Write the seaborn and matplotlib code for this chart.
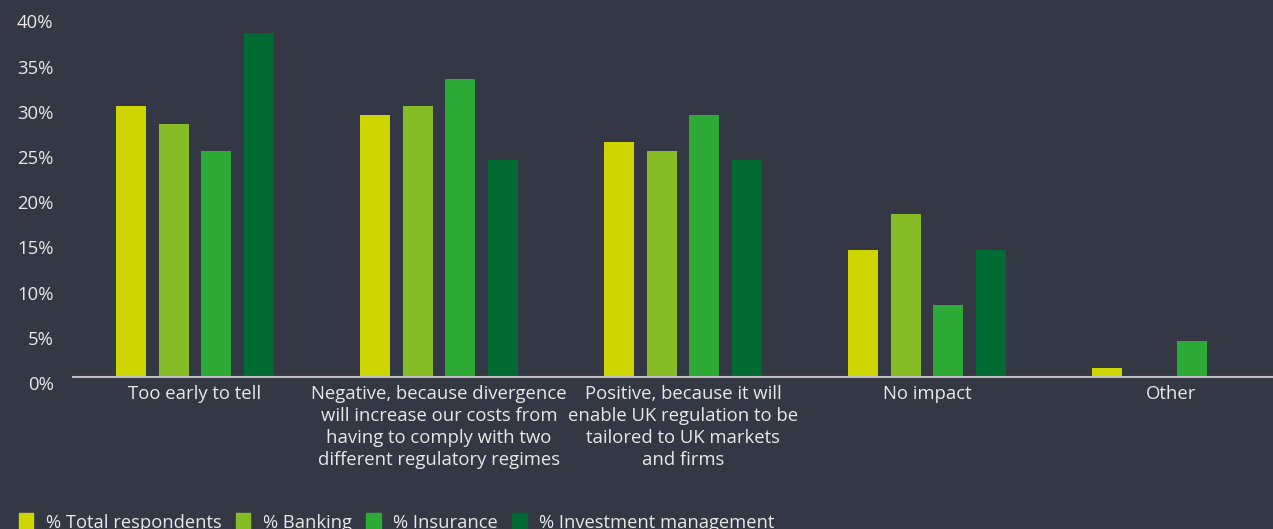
import matplotlib
matplotlib.use("Agg")
import matplotlib.pyplot as plt
import matplotlib.transforms as mtransforms
import seaborn as sns
import pandas as pd

categories = [
    "Too early to tell",
    "Negative, because divergence\nwill increase our costs from\nhaving to comply with two\ndifferent regulatory regimes",
    "Positive, because it will\nenable UK regulation to be\ntailored to UK markets\nand firms",
    "No impact",
    "Other",
]
series = ["% Total respondents", "% Banking", "% Insurance", "% Investment management"]
total = [30, 29, 26, 14, 1]
banking = [28, 30, 25, 18, 0]
insurance = [25, 33, 29, 8, 4]
investment = [38, 24, 24, 14, 0]
yticks = [0, 5, 10, 15, 20, 25, 30, 35, 40]

colors = ["#CED500", "#86BC25", "#2DA935", "#006A33"]
bg = "#343744"
txt = "#E8E8E8"

rows = []
for name, vals in zip(series, [total, banking, insurance, investment]):
    for c, v in zip(categories, vals):
        rows.append({"category": c, "series": name, "value": v})
df = pd.DataFrame(rows)

sns.set_style("white")
plt.rcParams["font.family"] = ["Open Sans", "DejaVu Sans"]

fig = plt.figure(figsize=(12.73, 5.29), dpi=100)
fig.patch.set_facecolor(bg)
ax = fig.add_axes([73 / 1273, 152 / 529, 1220 / 1273, 361.6 / 529])
ax.set_facecolor(bg)

sns.barplot(data=df, x="category", y="value", hue="series", palette=colors,
            width=0.70, gap=0.30, saturation=1, linewidth=0, ax=ax, legend=False)

ax.set_ylim(0, 40)
ax.set_xlim(-0.5, 4.5)
ax.set_yticks(yticks)
ax.set_yticklabels([f"{t}%" for t in yticks])
ax.set_xlabel("")
ax.set_ylabel("")
for s in ["top", "right", "left"]:
    ax.spines[s].set_visible(False)
ax.spines["bottom"].set_color("#BDBDBD")
ax.spines["bottom"].set_linewidth(1.5)
ax.tick_params(axis="both", length=0, colors=txt, labelsize=13.3)
ax.tick_params(axis="y", pad=14)
ax.tick_params(axis="x", pad=6)
for lab in ax.get_xticklabels():
    lab.set_linespacing(1.28)
    lab.set_verticalalignment("top")
off = mtransforms.ScaledTranslation(0, -6 / 100, fig.dpi_scale_trans)
for lab in ax.get_yticklabels():
    lab.set_transform(lab.get_transform() + off)

handles = [plt.Rectangle((0, 0), 1, 1, color=c) for c in colors]
fig.legend(handles, series, loc="center left", bbox_to_anchor=(0.009, 0.012),
           ncol=4, frameon=False, fontsize=13.2, labelcolor=txt,
           handlelength=0.8, handleheight=1.0, handletextpad=0.7,
           columnspacing=0.75, borderaxespad=0)

fig.savefig("out.png", dpi=100, facecolor=bg)
